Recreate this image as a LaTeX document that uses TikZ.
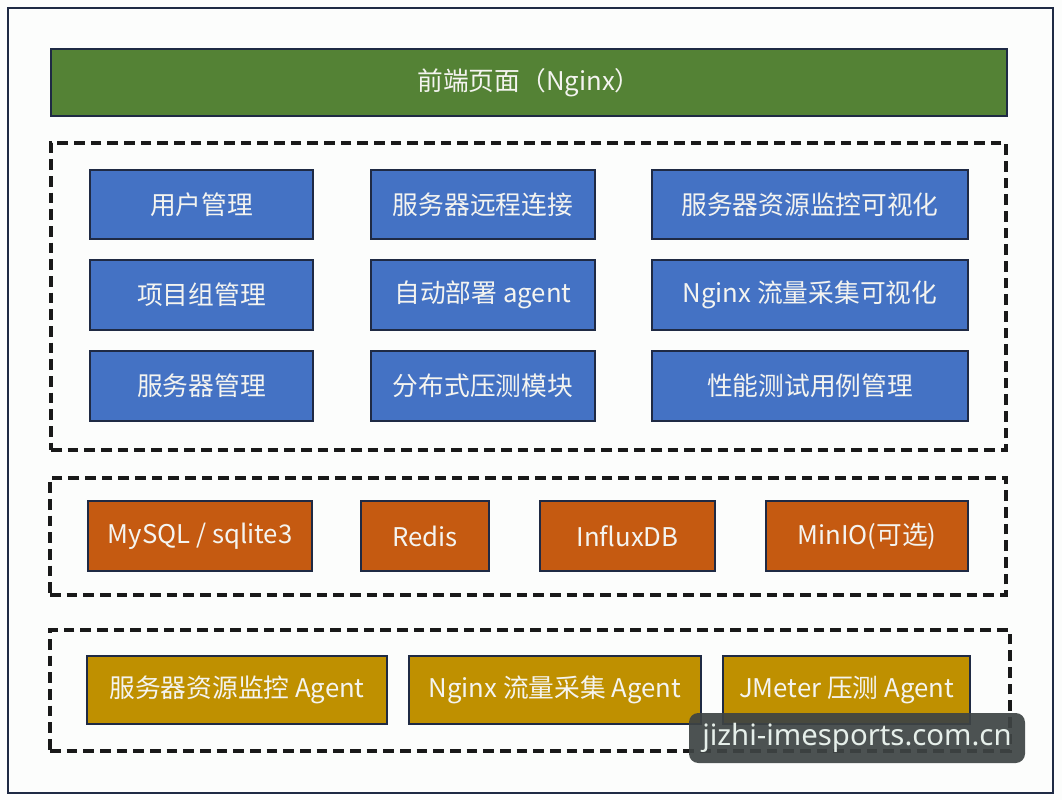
\documentclass[tikz,border=0pt]{standalone}
\usepackage{fontspec}
\setmainfont{Noto Sans CJK SC}
\newfontfamily\wmfont{Noto Sans}
\definecolor{bgc}{HTML}{FCFDFC}
\definecolor{navy}{HTML}{1F2A44}
\definecolor{greenc}{HTML}{548235}
\definecolor{bluec}{HTML}{4472C4}
\definecolor{orangec}{HTML}{C55A11}
\definecolor{goldc}{HTML}{BF9000}
\definecolor{txt}{HTML}{F4F4F0}
\definecolor{wmbg}{HTML}{3E4444}
\definecolor{wmtxt}{HTML}{E6EFEA}
\tikzset{
  boxbase/.style={draw=navy, line width=1.6pt, inner sep=0pt, outer sep=0pt, text=txt,
     font=\fontsize{19.3}{23}\selectfont},
  greenbox/.style={boxbase, fill=greenc},
  bluebox/.style={boxbase, fill=bluec},
  orangebox/.style={boxbase, fill=orangec},
  goldbox/.style={boxbase, fill=goldc},
  layerbox/.style={draw=black!90, line width=2.4pt, dash pattern=on 8pt off 4.5pt, inner sep=0pt, outer sep=0pt},
  wmbox/.style={fill=wmbg, fill opacity=0.92, text opacity=1, rounded corners=7pt, inner sep=0pt,
     text=wmtxt, font=\wmfont\fontsize{22}{26}\selectfont},
}
\newcommand\bx[7]{\node[#6, minimum width={(#4-#2)*0.75pt}, minimum height={(#5-#3)*0.75pt}] (#1) at ({(#2+#4)/2},{(#3+#5)/2}) {#7};}
\begin{document}
\begin{tikzpicture}[x=0.75pt,y=-0.75pt]
\useasboundingbox (0,0) rectangle (1062,800);
\fill[bgc] (0,0) rectangle (1062,800);
\draw[navy, line width=1.8pt] (8,8) rectangle (1053,793);
% front end
\bx{front}{51}{49}{1007}{116}{greenbox}{前端页面（Nginx）}
% layer 1
\bx{layA}{51}{143}{1006}{450}{layerbox}{}
\bx{u1}{90}{170}{313}{239}{bluebox}{用户管理}
\bx{u2}{371}{170}{595}{239}{bluebox}{服务器远程连接}
\bx{u3}{652}{170}{968}{239}{bluebox}{服务器资源监控可视化}
\bx{u4}{90}{260}{313}{330}{bluebox}{项目组管理}
\bx{u5}{371}{260}{595}{330}{bluebox}{自动部署 agent}
\bx{u6}{652}{260}{968}{330}{bluebox}{Nginx 流量采集可视化}
\bx{u7}{90}{351}{313}{421}{bluebox}{服务器管理}
\bx{u8}{371}{351}{595}{421}{bluebox}{分布式压测模块}
\bx{u9}{652}{351}{968}{421}{bluebox}{性能测试用例管理}
% layer 2
\bx{layB}{50}{478}{1006}{595}{layerbox}{}
\bx{d1}{88}{501}{312}{571}{orangebox}{MySQL / sqlite3}
\bx{d2}{361}{501}{489}{571}{orangebox}{Redis}
\bx{d3}{540}{501}{715}{571}{orangebox}{InfluxDB}
\bx{d4}{766}{501}{968}{571}{orangebox}{MinIO(可选)}
% layer 3
\bx{layC}{50}{630}{1010}{751}{layerbox}{}
\bx{g1}{87}{656}{387}{724}{goldbox}{服务器资源监控 Agent}
\bx{g2}{409}{656}{701}{724}{goldbox}{Nginx 流量采集 Agent}
\bx{g3}{723}{656}{970}{724}{goldbox}{JMeter 压测 Agent}
% watermark
\bx{wm}{689}{713}{1025}{763}{wmbox}{\raisebox{-4pt}{jizhi-imesports.com.cn}}
\end{tikzpicture}
\end{document}
